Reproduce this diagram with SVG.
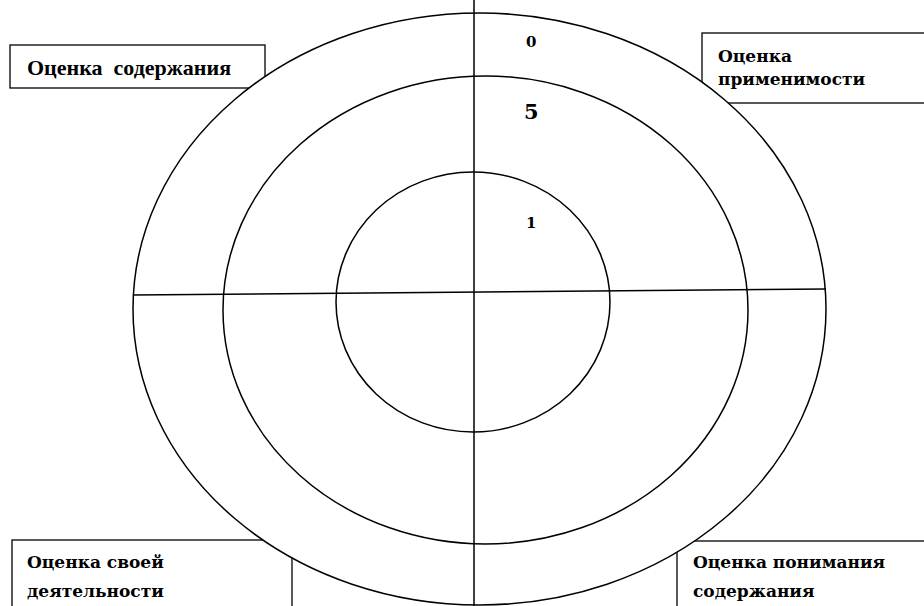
<svg xmlns="http://www.w3.org/2000/svg" width="924" height="606" viewBox="0 0 924 606">
<style>
.box{fill:#fff;stroke:#000;stroke-width:1.3}
.ring{fill:none;stroke:#000;stroke-width:1.5}
.ln{stroke:#000;stroke-width:1.5;fill:none}
.t1{font-family:"Liberation Serif",serif;font-weight:bold;font-size:22px;fill:#000}
.t2{font-family:"DejaVu Serif","Liberation Serif",serif;font-weight:bold;font-size:17px;fill:#000}
.num{font-family:"DejaVu Serif","Liberation Serif",serif;font-weight:bold;fill:#000}
</style>
<rect width="924" height="606" fill="#fff"/>
<g id="box-content"><rect class="box" x="10" y="45" width="255" height="43"/></g>
<g id="box-applicability"><rect class="box" x="702" y="33" width="240" height="70"/></g>
<g id="box-activity"><rect class="box" x="12" y="540" width="280" height="80"/></g>
<g id="box-understanding"><rect class="box" x="677" y="541" width="260" height="80"/></g>
<g id="rings">
<ellipse cx="479.5" cy="309" rx="346.5" ry="296" fill="#fff" stroke="#000" stroke-width="1.5"/>
<ellipse class="ring" cx="485.5" cy="310" rx="262.5" ry="234"/>
<ellipse class="ring" cx="473" cy="302" rx="137" ry="130"/>
</g>
<g id="connectors">
<line class="ln" x1="474" y1="0" x2="474" y2="606"/>
<line class="ln" x1="133" y1="295" x2="826" y2="289"/>
</g>
<g id="labels">
<text class="t1" x="27" y="75" xml:space="preserve">Оценка  содержания</text>
<text class="t2" x="718" y="62">Оценка</text>
<text class="t2" x="718" y="85">применимости</text>
<text class="t2" x="27" y="568">Оценка своей</text>
<text class="t2" x="27" y="597">деятельности</text>
<text class="t2" x="693" y="568">Оценка понимания</text>
<text class="t2" x="693" y="597">содержания</text>
<text class="num" x="526" y="47" font-size="15">0</text>
<text class="num" x="524" y="119" font-size="21">5</text>
<text class="num" x="526" y="228" font-size="15">1</text>
</g>
</svg>
